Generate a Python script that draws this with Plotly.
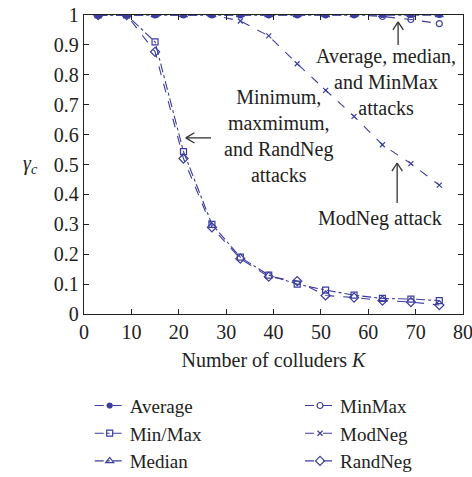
import plotly.graph_objects as go

K = [3, 9, 15, 21, 27, 33, 39, 45, 51, 57, 63, 69, 75]
average = [1, 1, 1, 1, 1, 1, 1, 1, 1, 1, 1, 1, 1]
minmax_sq = [1, 1, 0.91, 0.543, 0.30, 0.19, 0.13, 0.10, 0.08, 0.063, 0.052, 0.05, 0.045]
median = [1, 1, 1, 1, 1, 1, 1, 1, 1, 1, 1, 1, 1]
minmax = [1, 1, 1, 1, 1, 1, 1, 1, 1, 1, 0.995, 0.985, 0.971]
modneg = [1, 1, 1, 1, 1, 0.98, 0.93, 0.837, 0.748, 0.661, 0.566, 0.503, 0.431]
randneg = [1, 1, 0.877, 0.52, 0.29, 0.185, 0.125, 0.11, 0.062, 0.055, 0.045, 0.04, 0.03]

C = "#3b3d9e"
FONT = "Liberation Serif"

series1 = [("Average", average, "circle", "dashdot", 5),
           ("Min/Max", minmax_sq, "square-open", "dashdot", 6),
           ("Median", median, "triangle-up-open", "dashdot", 7)]
series2 = [("MinMax", minmax, "circle-open", "dash", 6),
           ("ModNeg", modneg, "x-thin-open", "dash", 5),
           ("RandNeg", randneg, "diamond-open", "dash", 7)]

fig = go.Figure()
for name, ys, sym, dash, sz in series1:
    fig.add_trace(go.Scatter(x=K, y=ys, name=name, mode="lines+markers",
                             line=dict(color=C, width=1.1, dash=dash),
                             marker=dict(symbol=sym, size=sz, color=C, line=dict(color=C, width=1.2)),
                             legend="legend"))
for name, ys, sym, dash, sz in series2:
    fig.add_trace(go.Scatter(x=K, y=ys, name=name, mode="lines+markers",
                             line=dict(color=C, width=1.1, dash=dash),
                             marker=dict(symbol=sym, size=sz, color=C, line=dict(color=C, width=1.2)),
                             legend="legend2"))

tf = dict(family=FONT, size=20, color="#222")
ann = []
ann.append(dict(x=63.8, y=0.775, xref="x", yref="y", text="Average, median,<br>and MinMax<br>attacks",
                showarrow=False, font=tf, align="center"))
ann.append(dict(x=41.0, y=0.595, xref="x", yref="y", text="Minimum,<br>maxmimum,<br>and RandNeg<br>attacks",
                showarrow=False, font=tf, align="center"))
ann.append(dict(x=62.5, y=0.32, xref="x", yref="y", text="ModNeg attack",
                showarrow=False, font=tf, align="center"))
ann.append(dict(x=-0.165, y=0.5, xref="paper", yref="paper", text="<i>γ<sub>c</sub></i>",
                showarrow=False, font=dict(family=FONT, size=20, color="#222")))

shapes = []
def arrow(x0, y0, x1, y1, hx1, hy1, hx2, hy2):
    L = dict(color="#333", width=1.3)
    shapes.append(dict(type="line", xref="x", yref="y", x0=x0, y0=y0, x1=x1, y1=y1, line=L))
    shapes.append(dict(type="line", xref="x", yref="y", x0=x1, y0=y1, x1=hx1, y1=hy1, line=L))
    shapes.append(dict(type="line", xref="x", yref="y", x0=x1, y0=y1, x1=hx2, y1=hy2, line=L))

arrow(66.3, 0.90, 66.3, 0.977, 65.2, 0.95, 67.4, 0.95)
arrow(26.8, 0.589, 21.5, 0.589, 23.3, 0.606, 23.3, 0.572)
arrow(66.1, 0.371, 66.1, 0.505, 65.0, 0.478, 67.2, 0.478)

axis_common = dict(showline=True, linecolor="#222", linewidth=1.3, mirror="ticks",
                   ticks="inside", ticklen=5, tickcolor="#222", showgrid=False, zeroline=False,
                   tickfont=tf, automargin=False, ticklabeloverflow="allow")
LF = dict(family=FONT, size=19, color="#222")
fig.update_layout(
    width=472, height=477,
    margin=dict(l=84, r=9, t=15, b=163, autoexpand=False),
    paper_bgcolor="white", plot_bgcolor="white",
    font=dict(family=FONT, size=20, color="#222"),
    xaxis=dict(range=[0, 80], tickvals=[0, 10, 20, 30, 40, 50, 60, 70, 80],
               title=dict(text="Number of colluders <i>K</i>", font=tf, standoff=10), **axis_common),
    yaxis=dict(range=[0, 1], tickvals=[0, 0.1, 0.2, 0.3, 0.4, 0.5, 0.6, 0.7, 0.8, 0.9, 1],
               ticktext=["0", "0.1", "0.2", "0.3", "0.4", "0.5", "0.6", "0.7", "0.8", "0.9", "1"],
               **axis_common),
    legend=dict(x=0.015, y=-0.243, xanchor="left", yanchor="top", font=LF,
                bgcolor="rgba(0,0,0,0)", tracegroupgap=0, itemwidth=30),
    legend2=dict(x=0.57, y=-0.243, xanchor="left", yanchor="top", font=LF,
                 bgcolor="rgba(0,0,0,0)", tracegroupgap=0, itemwidth=30),
    annotations=ann, shapes=shapes, showlegend=True,
)
fig.write_html("out.html")
